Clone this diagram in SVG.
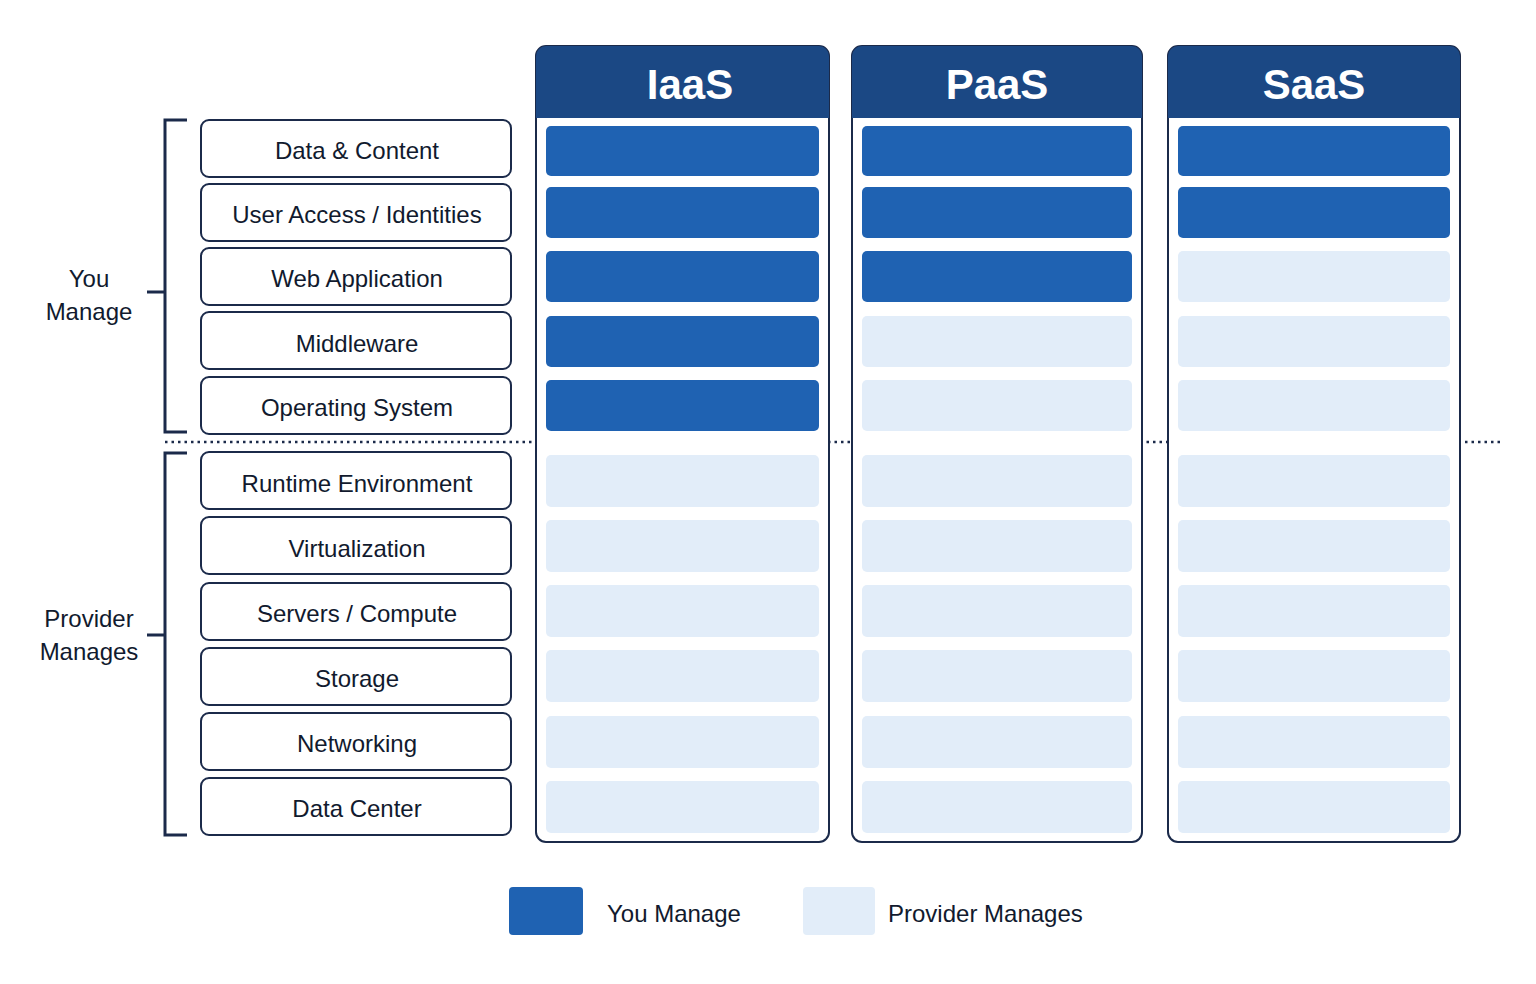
<svg xmlns="http://www.w3.org/2000/svg" width="1536" height="984" viewBox="0 0 1536 984">
<style>
.lbl{fill:#fff;stroke:#1b2a4a;stroke-width:2}
.t{font-family:"Liberation Sans",Arial,sans-serif;font-size:24px;fill:#111a2e;text-anchor:middle;dominant-baseline:central}
.h{font-family:"Liberation Sans",Arial,sans-serif;font-size:42px;font-weight:bold;fill:#fff;text-anchor:middle;dominant-baseline:central}
.col{fill:#fff;stroke:#1b2a4a;stroke-width:2}
.hd{fill:#1b4884}
.d{fill:#1f62b2}
.l{fill:#e2edf9}
.br{fill:none;stroke:#1b2a4a;stroke-width:3}
</style>
<rect width="1536" height="984" fill="#fff"/>
<g id="connectors">
<path class="br" d="M187,120 H165 V432 H187 M165,292 H147"/>
<path class="br" d="M187,453 H165 V835 H187 M165,635 H147"/>
<line x1="165" y1="442" x2="1500" y2="442" stroke="#1b2a4a" stroke-width="2.5" stroke-dasharray="2.5,4"/>
</g>
<g id="group-you"><text class="t" x="89" y="278">You</text><text class="t" x="89" y="311">Manage</text></g>
<g id="group-provider"><text class="t" x="89" y="618">Provider</text><text class="t" x="89" y="651">Manages</text></g>
<g id="labels">
<g id="l1"><rect class="lbl" x="201" y="120" width="310" height="57" rx="8"/><text class="t" x="357" y="150">Data &amp; Content</text></g>
<g id="l2"><rect class="lbl" x="201" y="184" width="310" height="57" rx="8"/><text class="t" x="357" y="214">User Access / Identities</text></g>
<g id="l3"><rect class="lbl" x="201" y="248" width="310" height="57" rx="8"/><text class="t" x="357" y="278">Web Application</text></g>
<g id="l4"><rect class="lbl" x="201" y="312" width="310" height="57" rx="8"/><text class="t" x="357" y="343">Middleware</text></g>
<g id="l5"><rect class="lbl" x="201" y="377" width="310" height="57" rx="8"/><text class="t" x="357" y="407">Operating System</text></g>
<g id="l6"><rect class="lbl" x="201" y="452" width="310" height="57" rx="8"/><text class="t" x="357" y="483">Runtime Environment</text></g>
<g id="l7"><rect class="lbl" x="201" y="517" width="310" height="57" rx="8"/><text class="t" x="357" y="548">Virtualization</text></g>
<g id="l8"><rect class="lbl" x="201" y="583" width="310" height="57" rx="8"/><text class="t" x="357" y="613">Servers / Compute</text></g>
<g id="l9"><rect class="lbl" x="201" y="648" width="310" height="57" rx="8"/><text class="t" x="357" y="678">Storage</text></g>
<g id="l10"><rect class="lbl" x="201" y="713" width="310" height="57" rx="8"/><text class="t" x="357" y="743">Networking</text></g>
<g id="l11"><rect class="lbl" x="201" y="778" width="310" height="57" rx="8"/><text class="t" x="357" y="808">Data Center</text></g>
</g>
<g id="iaas">
<rect class="col" x="536" y="46" width="293" height="796" rx="10"/>
<path class="hd" d="M536,118 V56 a10,10 0 0 1 10,-10 H819 a10,10 0 0 1 10,10 V118 Z"/>
<text class="h" x="690" y="84">IaaS</text>
<rect class="d" x="546" y="126" width="273" height="50" rx="5"/>
<rect class="d" x="546" y="187" width="273" height="51" rx="5"/>
<rect class="d" x="546" y="251" width="273" height="51" rx="5"/>
<rect class="d" x="546" y="316" width="273" height="51" rx="5"/>
<rect class="d" x="546" y="380" width="273" height="51" rx="5"/>
<rect class="l" x="546" y="455" width="273" height="52" rx="5"/>
<rect class="l" x="546" y="520" width="273" height="52" rx="5"/>
<rect class="l" x="546" y="585" width="273" height="52" rx="5"/>
<rect class="l" x="546" y="650" width="273" height="52" rx="5"/>
<rect class="l" x="546" y="716" width="273" height="52" rx="5"/>
<rect class="l" x="546" y="781" width="273" height="52" rx="5"/>
</g>
<g id="paas">
<rect class="col" x="852" y="46" width="290" height="796" rx="10"/>
<path class="hd" d="M852,118 V56 a10,10 0 0 1 10,-10 H1132 a10,10 0 0 1 10,10 V118 Z"/>
<text class="h" x="997" y="84">PaaS</text>
<rect class="d" x="862" y="126" width="270" height="50" rx="5"/>
<rect class="d" x="862" y="187" width="270" height="51" rx="5"/>
<rect class="d" x="862" y="251" width="270" height="51" rx="5"/>
<rect class="l" x="862" y="316" width="270" height="51" rx="5"/>
<rect class="l" x="862" y="380" width="270" height="51" rx="5"/>
<rect class="l" x="862" y="455" width="270" height="52" rx="5"/>
<rect class="l" x="862" y="520" width="270" height="52" rx="5"/>
<rect class="l" x="862" y="585" width="270" height="52" rx="5"/>
<rect class="l" x="862" y="650" width="270" height="52" rx="5"/>
<rect class="l" x="862" y="716" width="270" height="52" rx="5"/>
<rect class="l" x="862" y="781" width="270" height="52" rx="5"/>
</g>
<g id="saas">
<rect class="col" x="1168" y="46" width="292" height="796" rx="10"/>
<path class="hd" d="M1168,118 V56 a10,10 0 0 1 10,-10 H1450 a10,10 0 0 1 10,10 V118 Z"/>
<text class="h" x="1314" y="84">SaaS</text>
<rect class="d" x="1178" y="126" width="272" height="50" rx="5"/>
<rect class="d" x="1178" y="187" width="272" height="51" rx="5"/>
<rect class="l" x="1178" y="251" width="272" height="51" rx="5"/>
<rect class="l" x="1178" y="316" width="272" height="51" rx="5"/>
<rect class="l" x="1178" y="380" width="272" height="51" rx="5"/>
<rect class="l" x="1178" y="455" width="272" height="52" rx="5"/>
<rect class="l" x="1178" y="520" width="272" height="52" rx="5"/>
<rect class="l" x="1178" y="585" width="272" height="52" rx="5"/>
<rect class="l" x="1178" y="650" width="272" height="52" rx="5"/>
<rect class="l" x="1178" y="716" width="272" height="52" rx="5"/>
<rect class="l" x="1178" y="781" width="272" height="52" rx="5"/>
</g>
<g id="legend">
<rect class="d" x="509" y="887" width="74" height="48" rx="4"/>
<text class="t" x="607" y="913" style="text-anchor:start">You Manage</text>
<rect class="l" x="803" y="887" width="72" height="48" rx="4"/>
<text class="t" x="888" y="913" style="text-anchor:start">Provider Manages</text>
</g>
</svg>
